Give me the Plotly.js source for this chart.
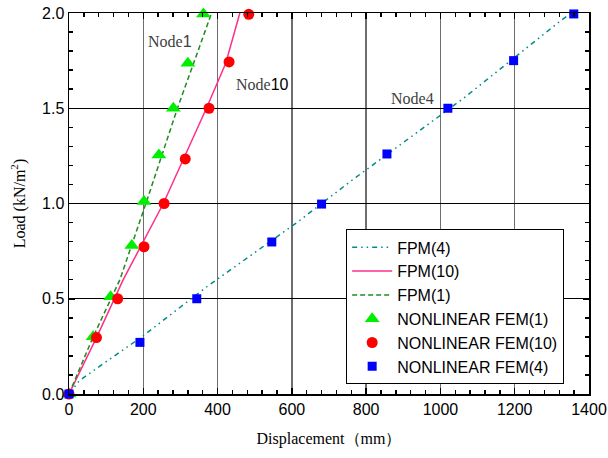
<!DOCTYPE html>
<html>
<head>
<meta charset="utf-8">
<script src="https://cdn.plot.ly/plotly-3.0.1.min.js"></script>
<style>html,body{margin:0;padding:0;background:#fff;}#chart{width:608px;height:458px;}</style>
</head>
<body>
<div id="chart"></div>
<script>
// FPM (analytical) curves
var fpm4X  = [0, 28, 100, 196, 371, 617, 757, 1062, 1326, 1352];
var fpm4Y  = [0, 0.07, 0.17, 0.30, 0.563, 0.905, 1.115, 1.552, 1.963, 2.0];
var fpm10X = [0, 75, 146, 254, 370, 422, 460];
var fpm10Y = [0, 0.30, 0.60, 1.00, 1.50, 1.736, 2.00];
var fpm1X  = [0, 65, 137, 207, 292, 338, 384];
var fpm1Y  = [0, 0.30, 0.60, 1.00, 1.50, 1.75, 2.00];
// Nonlinear FEM points
var fem1X  = [0, 65, 112, 169, 202, 242, 281, 320, 362];
var fem1Y  = [0, 0.30, 0.51, 0.78, 1.01, 1.255, 1.50, 1.736, 1.995];
var fem10X = [0, 74, 131, 202, 256, 313, 377, 431, 484];
var fem10Y = [0, 0.296, 0.50, 0.773, 1.00, 1.234, 1.50, 1.743, 1.993];
var fem4X  = [0, 191, 344, 546, 680, 856, 1020, 1197, 1359];
var fem4Y  = [0, 0.271, 0.50, 0.798, 0.997, 1.26, 1.50, 1.75, 1.995];
var names = ['FPM(4)', 'FPM(10)', 'FPM(1)', 'NONLINEAR FEM(1)', 'NONLINEAR FEM(10)', 'NONLINEAR FEM(4)'];
var xTicks = [0, 200, 400, 600, 800, 1000, 1200, 1400];
var yTicks = [0, 0.5, 1.0, 1.5, 2.0];

var serif = 'Times New Roman, Liberation Serif, serif';
var sans = 'Arial, Liberation Sans, sans-serif';

var data = [
  {x: fpm4X, y: fpm4Y, name: names[0], mode: 'lines', line: {color: '#008B8B', width: 1.5, dash: '5px,4px,1.5px,4px,1.5px,4px'}},
  {x: fpm10X, y: fpm10Y, name: names[1], mode: 'lines', line: {color: '#FF2E8C', width: 1.5}},
  {x: fpm1X, y: fpm1Y, name: names[2], mode: 'lines', line: {color: '#1E8C1E', width: 1.5, dash: '5px,3px'}},
  {x: fem1X, y: fem1Y, name: names[3], mode: 'markers', cliponaxis: false, marker: {symbol: 'triangle-up', size: 13, color: '#00EE00'}},
  {x: fem10X, y: fem10Y, name: names[4], mode: 'markers', cliponaxis: false, marker: {symbol: 'circle', size: 11, color: '#FF0000'}},
  {x: fem4X, y: fem4Y, name: names[5], mode: 'markers', cliponaxis: false, marker: {symbol: 'square', size: 9, color: '#0000FF'}}
];

var axisCommon = {
  ticks: 'inside', ticklen: 6, tickwidth: 1.5, tickcolor: '#000',
  showline: true, linecolor: '#000', linewidth: 1.5, mirror: 'allticks',
  showgrid: true, gridwidth: 1.3, zeroline: false, automargin: false,
  tickfont: {family: sans, size: 16, color: '#000'}
};
var xRange = [xTicks[0], xTicks[xTicks.length - 1]];
var yRange = [yTicks[0], yTicks[yTicks.length - 1]];

var layout = {
  width: 608, height: 458,
  margin: {l: 69, r: 19, t: 13, b: 64},
  paper_bgcolor: '#fff', plot_bgcolor: '#fff',
  showlegend: true,
  legend: {
    x: 0.533, y: 0.432, xanchor: 'left', yanchor: 'top',
    bgcolor: '#fff', bordercolor: '#000', borderwidth: 1,
    font: {family: sans, size: 16, color: '#000'},
    tracegroupgap: 0, traceorder: 'normal', itemwidth: 40
  },
  xaxis: Object.assign({}, axisCommon, {
    range: xRange, tickmode: 'linear', tick0: xTicks[0], dtick: xTicks[1] - xTicks[0],
    gridcolor: '#6e6e6e',
    minor: {tickmode: 'linear', tick0: 0, dtick: 40, ticks: 'inside', ticklen: 4, tickwidth: 1.5, tickcolor: '#000', showgrid: false},
    title: {text: 'Displacement（mm）', font: {family: serif, size: 16, color: '#000'}, standoff: 16}
  }),
  yaxis: Object.assign({}, axisCommon, {
    range: yRange, tickmode: 'linear', tick0: yTicks[0], dtick: yTicks[1] - yTicks[0],
    tickformat: '.1f', gridcolor: '#000',
    minor: {tickmode: 'linear', tick0: 0, dtick: 0.1, ticks: 'inside', ticklen: 4, tickwidth: 1.5, tickcolor: '#000', showgrid: false},
    title: {text: 'Load (kN/m<sup>2</sup>)', font: {family: serif, size: 16, color: '#000'}, standoff: 12}
  }),
  annotations: [
    {x: 272, y: 1.853, xref: 'x', yref: 'y', showarrow: false, text: 'Node<span style="font-family:Arial, Liberation Sans, sans-serif">1</span>', font: {family: serif, size: 16, color: '#404040'}},
    {x: 520, y: 1.625, xref: 'x', yref: 'y', showarrow: false, text: 'Node<span style="font-family:Arial, Liberation Sans, sans-serif;fill:#000">10</span>', font: {family: serif, size: 16, color: '#404040'}},
    {x: 926, y: 1.549, xref: 'x', yref: 'y', showarrow: false, text: 'Node4', font: {family: serif, size: 16, color: '#404040'}}
  ]
};

Plotly.newPlot('chart', data, layout, {staticPlot: true, displayModeBar: false});
</script>
</body>
</html>
